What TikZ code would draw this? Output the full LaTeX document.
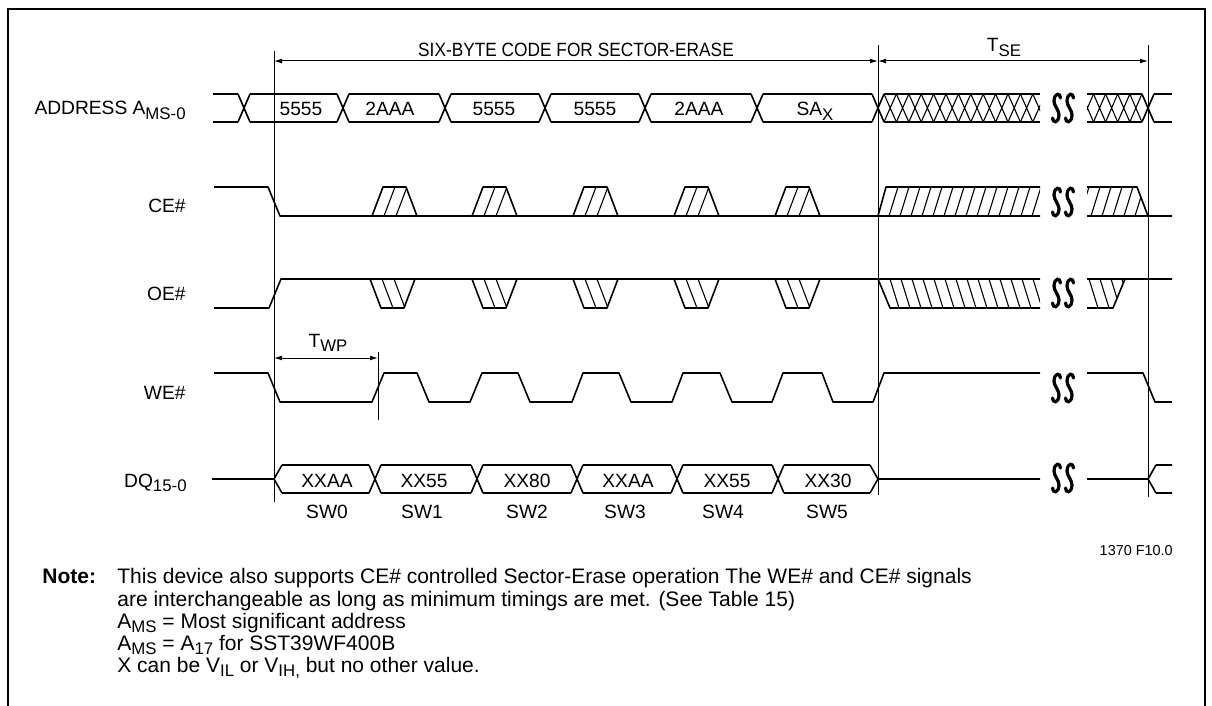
\documentclass[tikz,border=0pt]{standalone}
\usepackage{fontspec}
\setmainfont{Liberation Sans}
\usepackage{tikz}
\usetikzlibrary{arrows.meta}
\newcommand{\lowsub}[1]{\raisebox{-0.45ex}{\fontsize{8.4}{9}\selectfont #1}}
\tikzset{%
  >={Latex[width=2.4pt,length=4pt]},
  % Specifications for style of lines and texts:
         signal/.style = {line width=0.8pt, line join=round},
          hatch/.style = {line width=0.55pt},
          guide/.style = {line width=0.5pt},
      dimension/.style = {guide, <->},
        sigName/.style = {anchor=base east, inner sep=0pt,
                          font=\fontsize{9.6}{11}\selectfont},
        busText/.style = {anchor=base, inner sep=0pt,
                          font=\fontsize{9.6}{11}\selectfont},
       noteText/.style = {anchor=base west, inner sep=0pt,
                          font=\fontsize{10.5}{11}\selectfont},
  % Specification of the break mark (two long S)
      breakMark/.pic = {
        \foreach \dx in {-6.5,6.5}
          \draw[line width=1.6pt, line cap=round]
            (\dx+4,-10) .. controls (\dx+4,-15) and (\dx-2,-16) .. (\dx-2.5,-7)
            .. controls (\dx-2.5,-2) and (\dx+2.5,2) .. (\dx+2.5,7)
            .. controls (\dx+2,16) and (\dx-4,15) .. (\dx-4,10);
      },
}

\begin{document}
\begin{tikzpicture}[x=0.5pt, y=-0.5pt]
  \useasboundingbox (0,0) rectangle (1212,706);
  % Frame
  \draw[line width=1pt] (8,706) -- (8,9) -- (1205,9) -- (1205,706);

  % Guide lines and time spans
  \coordinate (gStart) at (274,61);
  \coordinate (gErase) at (878,61);
  \coordinate (gEnd)   at (1148,61);
  \coordinate (gWP)    at (378,358);
  \draw[guide] (274,51) -- (274,502) (878,45) -- (878,495)
               (1148,45) -- (1148,497) (378,352) -- (378,420);
  \draw[dimension] (gStart) -- (gErase);
  \draw[dimension] (gErase) -- (gEnd);
  \draw[dimension] (gStart |- gWP) -- (gWP);
  \node (codeLabel) [busText] at (576,57)
    {\scalebox{0.9}[1]{SIX-BYTE CODE FOR SECTOR-ERASE}};
  \node (tSE)       [busText] at (1004,52) {T\lowsub{SE}};
  \node (tWP)       [busText] at (328,347) {T\lowsub{WP}};

  % Specification of signal names
  \node (addrName) [sigName] at (186,115) {ADDRESS A\lowsub{MS-0}};
  \node (ceName)   [sigName] at (186,213) {CE\#};
  \node (oeName)   [sigName] at (186,300) {OE\#};
  \node (weName)   [sigName] at (186,399) {WE\#};
  \node (dqName)   [sigName] at (187,487) {DQ\lowsub{15-0}};

  % ADDRESS bus
  \foreach \c in {244,343,445,545,645,757,878,1148}
    \draw[signal] (\c-6,94) -- (\c+6,122) (\c-6,122) -- (\c+6,94);
  \foreach \a/\b in {213/238,250/337,349/439,451/539,551/639,651/751,
                     763/872,884/1040,1087/1142,1154/1172}
    \draw[signal] (\a,94) -- (\b,94) (\a,122) -- (\b,122);
  \begin{scope}
    \clip (884,90) rectangle (1040,126);
    \foreach \x in {884,896.4,...,1040}
      \draw[hatch] (\x,94) -- ++(12.4,28) (\x,122) -- ++(12.4,-28);
  \end{scope}
  \begin{scope}
    \clip (1087,90) rectangle (1142,126);
    \foreach \x in {1081.4,1093.5,...,1140}
      \draw[hatch] (\x,94) -- ++(12.1,28) (\x,122) -- ++(12.1,-28);
  \end{scope}
  \node (a0) [busText] at (301,116) {5555};
  \node (a1) [busText] at (390,116) {2AAA};
  \node (a2) [busText] at (494,116) {5555};
  \node (a3) [busText] at (595,116) {5555};
  \node (a4) [busText] at (699,116) {2AAA};
  \node (a5) [busText] at (815,116) {SA\lowsub{X}};
  \pic at (1063,108) {breakMark};

  % CE# signal
  \draw[signal] (214,187) -- (268,187) -- (280,216) -- (1040,216)
                (1087,216) -- (1172,216);
  \foreach \L in {372,472,573,674,775} {
    \draw[signal] (\L,216) -- ++(11,-29) -- ++(23,0) -- ++(11,29);
    \begin{scope}
      \clip (\L,216) -- ++(11,-29) -- ++(23,0) -- ++(11,29) -- cycle;
      \foreach \k in {12,24} \draw[hatch] (\L+\k,216) -- ++(11,-29);
    \end{scope}
  }
  \draw[signal] (878,216) -- (886,187) -- (1040,187);
  \begin{scope}
    \clip (878,216) -- (886,187) -- (1040,187) -- (1040,216) -- cycle;
    \foreach \x in {889,900,...,1040} \draw[hatch] (\x,216) -- ++(9,-29);
  \end{scope}
  \draw[signal] (1087,187) -- (1137,187) -- (1148,216);
  \begin{scope}
    \clip (1087,216) -- (1087,187) -- (1137,187) -- (1148,216) -- cycle;
    \foreach \x in {1080,1091,...,1140} \draw[hatch] (\x,216) -- ++(9,-29);
  \end{scope}
  \pic at (1063,202) {breakMark};

  % OE# signal
  \draw[signal] (214,308) -- (269,308) -- (281,279) -- (1040,279)
                (1087,279) -- (1172,279);
  \foreach \L in {370,472,573,674,775} {
    \draw[signal] (\L,279) -- ++(11,29) -- ++(23,0) -- ++(11,-29);
    \begin{scope}
      \clip (\L,279) -- ++(11,29) -- ++(23,0) -- ++(11,-29) -- cycle;
      \foreach \k in {12,24} \draw[hatch] (\L+\k,279) -- ++(11,29);
    \end{scope}
  }
  \draw[signal] (878,279) -- (890,308) -- (1040,308);
  \begin{scope}
    \clip (878,279) -- (890,308) -- (1040,308) -- (1040,279) -- cycle;
    \foreach \x in {890,901,...,1040} \draw[hatch] (\x,279) -- ++(9,29);
  \end{scope}
  \draw[signal] (1087,308) -- (1113,308) -- (1125,279);
  \begin{scope}
    \clip (1087,279) -- (1087,308) -- (1113,308) -- (1125,279) -- cycle;
    \foreach \x in {1078,1089,...,1125} \draw[hatch] (\x,279) -- ++(9,29);
  \end{scope}
  \pic at (1063,293) {breakMark};

  % WE# signal
  \draw[signal] (214,373) -- (268,373) -- (280,402) -- (372,402) -- (384,373)
    -- (417,373) -- (429,402) -- (470,402) -- (482,373)
    -- (518,373) -- (530,402) -- (572,402) -- (583,373)
    -- (619,373) -- (631,402) -- (672,402) -- (683,373)
    -- (720,373) -- (732,402) -- (772,402) -- (783,373)
    -- (822,373) -- (833,402) -- (873,402) -- (884,373) -- (1040,373)
    (1087,373) -- (1143,373) -- (1155,402) -- (1172,402);
  \pic at (1063,388) {breakMark};

  % DQ bus
  \draw[signal] (212,479) -- (274,479) (282,465) -- (274,479) -- (282,493);
  \foreach \c in {375,477,577,677,778}
    \draw[signal] (\c-6,465) -- (\c+6,493) (\c-6,493) -- (\c+6,465);
  \foreach \a/\b in {282/369,381/471,483/571,583/671,683/772,784/870}
    \draw[signal] (\a,465) -- (\b,465) (\a,493) -- (\b,493);
  \draw[signal] (870,465) -- (878,479) -- (870,493) (878,479) -- (1040,479)
                (1087,479) -- (1148,479) (1156,465) -- (1148,479) -- (1156,493)
                (1156,465) -- (1172,465) (1156,493) -- (1172,493);
  \pic at (1063,478) {breakMark};
  \node (d0) [busText] at (327,487) {XXAA};
  \node (d1) [busText] at (424,487) {XX55};
  \node (d2) [busText] at (527,487) {XX80};
  \node (d3) [busText] at (628,487) {XXAA};
  \node (d4) [busText] at (727,487) {XX55};
  \node (d5) [busText] at (828,487) {XX30};
  \node (sw0) [busText] at (327,518) {SW0};
  \node (sw1) [busText] at (422,518) {SW1};
  \node (sw2) [busText] at (527,518) {SW2};
  \node (sw3) [busText] at (625,518) {SW3};
  \node (sw4) [busText] at (723,518) {SW4};
  \node (sw5) [busText] at (827,518) {SW5};

  % Figure number and notes
  \node (figNo) [anchor=base east, inner sep=0pt, font=\fontsize{7.2}{8}\selectfont]
    at (1173,555) {1370 F10.0};
  \node (noteHead) [noteText] at (42,583)  {\textbf{Note:}};
  \node (note1)    [noteText] at (117,583) {This device also supports CE\# controlled Sector-Erase operation The WE\# and CE\# signals};
  \node (note2)    [noteText] at (117,606) {are interchangeable as long as minimum timings are met. (See Table 15)};
  \node (note3)    [noteText] at (117,628) {A\lowsub{MS} = Most significant address};
  \node (note4)    [noteText] at (117,650) {A\lowsub{MS} = A\lowsub{17} for SST39WF400B};
  \node (note5)    [noteText] at (117,672) {X can be V\lowsub{IL} or V\lowsub{IH,} but no other value.};
\end{tikzpicture}
\end{document}
